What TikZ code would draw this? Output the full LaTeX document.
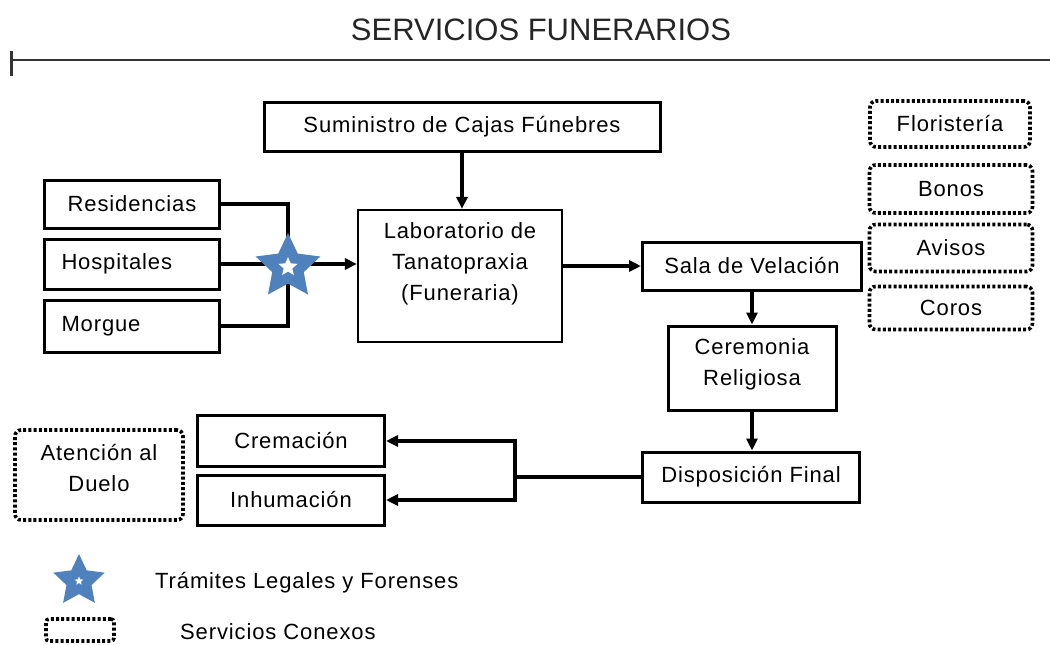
\documentclass[tikz,border=0pt]{standalone}
\usepackage{fontspec}
\setmainfont{Liberation Sans}
\newfontfamily\boxfont[LetterSpace=4]{Liberation Sans}
\usetikzlibrary{arrows.meta,shapes.geometric}
\definecolor{starblue}{HTML}{4F81BD}

\begin{document}
\begin{tikzpicture}[x=1pt,y=-1pt,
    txt/.style={inner sep=0pt,align=center,font=\boxfont\fontsize{22}{31}\selectfont},
    box/.style={txt,draw,line width=3pt},
    leftbox/.style={box,align=left,inner xsep=17pt,text width=141pt},
    dotbox/.style={box,line width=3.6pt,dash pattern=on 3pt off 2.2pt,rounded corners=6pt},
    link/.style={line width=3.2pt},
    arrow/.style={link,-{Triangle[length=12pt,width=11pt]}},
    bigstar/.style={star,star points=5,star point ratio=2.05,fill=starblue,inner sep=0pt},
    smallstar/.style={star,star points=5,star point ratio=2.2,fill=white,inner sep=0pt}]
    \useasboundingbox (0,0) rectangle (1050,645);

    % titulo
    \node[font=\fontsize{31}{36}\selectfont,text=black!85] (title) at (541,30) {SERVICIOS FUNERARIOS};
    \coordinate (tick) at (11,60);
    \draw[line width=2pt,black!80] (tick) -- (1050,60);
    \draw[line width=3pt,black!80] (11,51) -- (11,76);

    % origen
    \node[box,minimum width=175pt,minimum height=48pt] (res) at (132,204) {Residencias};
    \node[leftbox,minimum height=50pt] (hos) at (132,264) {Hospitales};
    \node[leftbox,minimum height=52pt] (mor) at (132,326) {Morgue};

    % flujo principal
    \node[box,minimum width=396pt,minimum height=49pt] (caj) at (462,127) {Suministro de Cajas Fúnebres};
    \node[box,line width=2.2pt,minimum width=204pt,minimum height=132pt] (lab) at (460,276) {};
    \node[txt] (labtxt) at (460,264) {Laboratorio de\\Tanatopraxia\\(Funeraria)};
    \node[box,minimum width=219pt,minimum height=48pt] (sal) at (752,266) {Sala de Velación};
    \node[box,minimum width=168pt,minimum height=84pt] (cer) at (752,368) {};
    \node[txt] (certxt) at (752,364) {Ceremonia\\Religiosa};
    \node[box,minimum width=217pt,minimum height=50pt] (dis) at (751,477) {Disposición Final};
    \node[box,minimum width=187pt,minimum height=51pt] (cre) at (291,441) {Cremación};
    \node[box,minimum width=187pt,minimum height=50pt] (inh) at (291,500) {Inhumación};

    % servicios conexos
    \node[dotbox,minimum width=160pt,minimum height=46pt] (flo) at (950,124) {Floristería};
    \node[dotbox,minimum width=163pt,minimum height=48pt] (bon) at (951,189) {Bonos};
    \node[dotbox,minimum width=163pt,minimum height=47pt] (avi) at (951,248) {Avisos};
    \node[dotbox,minimum width=163pt,minimum height=43pt] (cor) at (951,308) {Coros};
    \node[dotbox,minimum width=168pt,minimum height=90pt] (due) at (99,475) {};
    \node[txt] (duetxt) at (99,468) {Atención al\\Duelo};

    % conexiones
    \coordinate (hub) at (288,264);
    \draw[link] (res.east) -| (hub);
    \draw[link] (mor.east) -| (hub);
    \draw[link] (hos.east) -- (hub);
    \draw[arrow] (hub) -- (lab.west |- hub);
    \draw[arrow] (caj.south) -- (lab.north -| caj.south);
    \draw[arrow] (lab.east |- sal.west) -- (sal.west);
    \draw[arrow] (sal.south) -- (cer.north);
    \draw[arrow] (cer.south) -- (dis.north -| cer.south);
    \coordinate (split) at (515,477);
    \draw[link] (dis.west) -- (split);
    \draw[arrow] (split) |- (cre.east);
    \draw[arrow] (split) |- (inh.east);
    \node[bigstar,minimum size=68pt,yshift=-3pt] (tra) at (hub) {};
    \node[smallstar,minimum size=20pt] (trc) at (tra) {};

    % leyenda
    \node[bigstar,minimum size=54pt] (lst) at (79,581) {};
    \node[smallstar,minimum size=9pt] (lsc) at (lst) {};
    \node[txt,anchor=west] (ltr) at (155,583) {Trámites Legales y Forenses};
    \node[dotbox,rounded corners=3pt,minimum width=68pt,minimum height=22pt] (lbx) at (80,630) {};
    \node[txt,anchor=west] (lsv) at (180,632) {Servicios Conexos};
\end{tikzpicture}
\end{document}
